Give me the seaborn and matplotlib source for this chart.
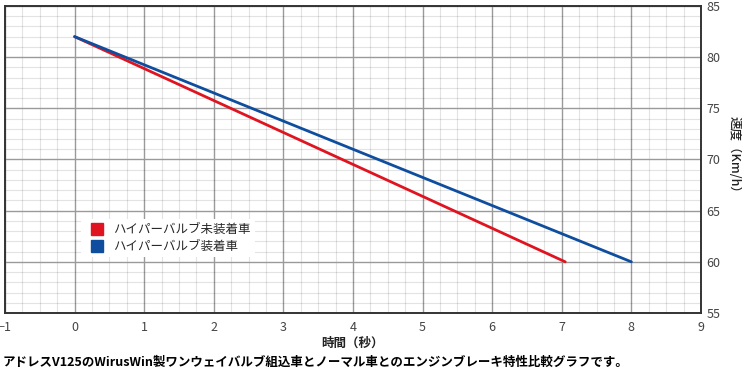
import numpy as np
import pandas as pd
import matplotlib.pyplot as plt
from matplotlib.ticker import MultipleLocator
import seaborn as sns

# data
time_normal = [0, 7.05]
speed_normal = [82, 60]
time_valve = [0, 8]
speed_valve = [82, 60]
labels = ['ハイパーバルブ未装着車', 'ハイパーバルブ装着車']
colors = ['#e01420', '#0f4e9e']

df = pd.concat([
    pd.DataFrame({'time': time_normal, 'speed': speed_normal, 'car': labels[0]}),
    pd.DataFrame({'time': time_valve, 'speed': speed_valve, 'car': labels[1]}),
])

sns.set_theme(style='white')
plt.rcParams['font.family'] = ['Noto Sans CJK JP', 'DejaVu Sans']

fig = plt.figure(figsize=(7.42, 3.70), dpi=100)
ax = fig.add_axes([0.0067, 0.154, 0.938, 0.83])

sns.lineplot(data=df, x='time', y='speed', hue='car', palette=colors,
             linewidth=2, ax=ax, legend=False)

ax.set_xlim(-1, 9)
ax.set_ylim(55, 85)
ax.xaxis.set_major_locator(MultipleLocator(1))
ax.xaxis.set_minor_locator(MultipleLocator(0.25))
ax.yaxis.set_major_locator(MultipleLocator(5))
ax.yaxis.set_minor_locator(MultipleLocator(1))
ax.grid(which='major', color='#9a9a9a', linewidth=1.0)
ax.grid(which='minor', color='black', alpha=0.11, linewidth=0.8)
ax.set_axisbelow(True)

ax.yaxis.tick_right()
ax.tick_params(which='both', length=0, labelsize=9, colors='#444444')
ax.tick_params(axis='x', pad=6)
ax.tick_params(axis='y', pad=4)
for s in ax.spines.values():
    s.set_color('#333333')
    s.set_linewidth(1.4)

ax.set_xlabel('時間（秒）', fontsize=9, fontweight='bold', color='#222222', labelpad=2)
fig.text(734 / 742, 1 - 157 / 370, '速度（Km/h）', fontsize=9, fontweight='medium',
         color='#222222', rotation=270, ha='center', va='center')

handles = [plt.Line2D([], [], marker='s', linestyle='', markersize=9, color=c) for c in colors]
leg = ax.legend(handles, labels, loc='upper left', bbox_to_anchor=(0.1, 0.325),
                frameon=True, facecolor='white', edgecolor='none', framealpha=1,
                fontsize=9, handletextpad=0.3, borderpad=0.3, labelspacing=0.3)

fig.text(0.004, 1 - 362 / 370, 'アドレスV125のWirusWin製ワンウェイバルブ組込車とノーマル車とのエンジンブレーキ特性比較グラフです。',
         fontsize=9, fontweight='bold', color='black', va='center')

fig.savefig('out.png', dpi=100)
